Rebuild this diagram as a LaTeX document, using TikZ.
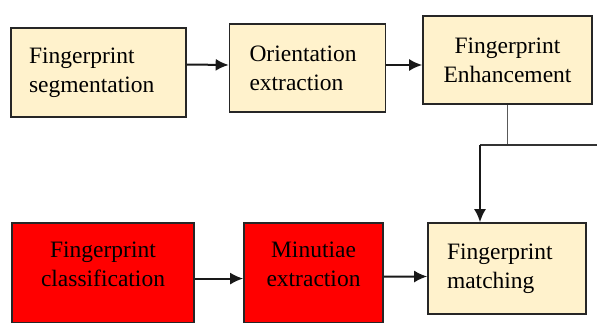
\documentclass[tikz,border=0pt]{standalone}
\usepackage{fontspec}
\setmainfont{Liberation Serif}
\newfontfamily\letracaja{Liberation Serif}
\usetikzlibrary{arrows.meta}
\definecolor{crema}{HTML}{FFF2CC}
\definecolor{rojo} {HTML}{FF0000}

\begin{document}
\begin{tikzpicture}[   % opciones por defecto
      x=1pt, y=-1pt,     % coordenadas en pixeles, y hacia abajo
      line width=2pt,    % grosor de linea
      -{Latex[length=13pt,width=12pt]}, % estilo de flecha al final
      draw=black!90,     % linea casi negra
      font=\letracaja\fontsize{23.5}{29}\selectfont
    ]
    \tikzstyle{caja}=[draw=black!85, line width=1.6pt, rectangle, inner ysep=0pt];
    \tikzstyle{crema}=[caja, fill=crema];
    \tikzstyle{rojo}=[caja, fill=rojo, anchor=north, inner ysep=19pt, text depth=46pt, align=center];
    %
    % marco de la imagen
    \useasboundingbox (0,0) rectangle (597,323);
    \clip (0,0) rectangle (597,323);
    %
    % fila de arriba
    \node [crema, inner xsep=18pt, text width=139pt, minimum height=89pt, align=left]
      (seg) at (98.5,72.5) {Fingerprint\\segmentation};
    \node [crema, inner xsep=20pt, text width=116pt, minimum height=88pt, align=left]
      (ori) at (307.5,68) {Orientation\\extraction};
    \node [crema, inner xsep=8pt, text width=153pt, minimum height=88pt, align=center]
      (enh) at (507.5,60) {Fingerprint\\Enhancement};
    %
    % fila de abajo
    \node [rojo, inner xsep=11pt, text width=160pt] (cla) at (103,222) {Fingerprint\\classification};
    \node [rojo, inner xsep=7pt, text width=125pt]  (min) at (313.5,222) {Minutiae\\extraction};
    \node [crema, inner xsep=19pt, text width=120pt, minimum height=91pt, align=left]
      (mat) at (507,268.5) {Fingerprint\\matching};
    %
    % conexiones de la fila de arriba
    \draw ([yshift=8pt]seg.east) -- ([yshift=3pt]ori.west);
    \draw ([yshift=3pt]ori.east) -- ([yshift=-5pt]enh.west);
    %
    % bajada hacia el emparejamiento
    \coordinate (codo)  at (480,145);
    \coordinate (borde) at (600,145);
    \draw [-, draw=black!65, line width=1.4pt] (enh.south) -- (enh.south |- codo);
    \draw [-, draw=black!80, line width=1.6pt] (codo) -- (borde);
    \draw (codo) -- (codo |- mat.north);
    %
    % conexiones de la fila de abajo
    \draw ([yshift=-6pt]cla.east) -- ([yshift=-6pt]min.west);
    \draw ([yshift=-4pt]min.east) -- ([yshift=-8pt]mat.west);
  \end{tikzpicture}
\end{document}
